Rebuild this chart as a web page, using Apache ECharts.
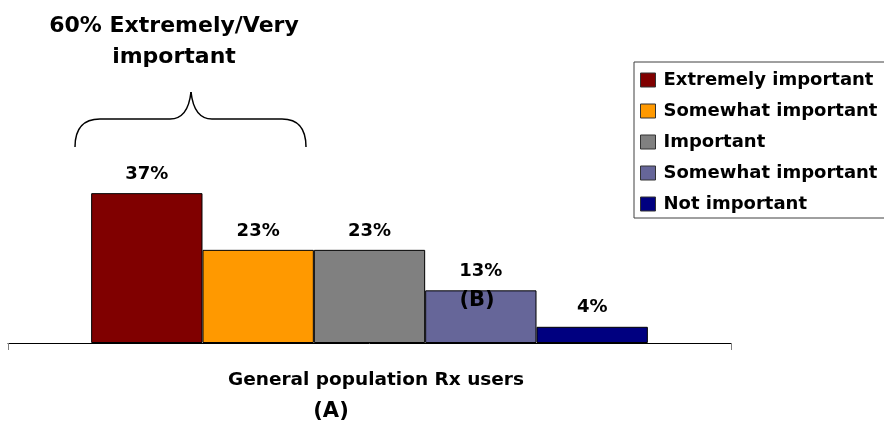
<!DOCTYPE html>
<html lang="en">

<head>
  <meta charset="UTF-8">
  <title>Importance among Rx users</title>
  <script src="https://cdn.jsdelivr.net/npm/echarts@6.0.0/dist/echarts.min.js"></script>
  <style>
    html,
    body {
      margin: 0;
      padding: 0;
      background: #fff;
    }

    #chart {
      width: 884px;
      height: 424px;
    }
  </style>
</head>

<body>
  <div id="chart"></div>
  <script>
    // data
    const categories = ['General population Rx users'];
    // the 4th name carries a trailing space so the legend keeps both "Somewhat important" rows
    const seriesNames = ['Extremely important', 'Somewhat important', 'Important', 'Somewhat important ', 'Not important'];
    const seriesValues = [37, 23, 23, 13, 4];
    const palette = ['#800000', '#FF9900', '#808080', '#666699', '#000080'];

    const FONT = 'DejaVu Sans';

    const myChart = echarts.init(document.getElementById('chart'));

    const series = seriesNames.map((name, i) => ({
      name: name,
      type: 'bar',
      barGap: '0%',
      barCategoryGap: '23%',
      data: [seriesValues[i]],
      itemStyle: {
        color: palette[i],
        borderColor: '#000',
        borderWidth: 1
      },
      label: {
        show: true,
        position: 'top',
        distance: 10,
        formatter: '{c}%',
        color: '#000',
        fontFamily: FONT,
        fontWeight: 'bold',
        fontSize: 18
      },
      emphasis: { disabled: true }
    }));

    // brace above the first two bars, drawn in pieces
    const braceStyle = { fill: 'none', stroke: '#000', lineWidth: 1.5 };
    function curve(x1, y1, cpx1, cpy1, cpx2, cpy2, x2, y2) {
      return { type: 'bezierCurve', shape: { x1, y1, cpx1, cpy1, cpx2, cpy2, x2, y2 }, style: braceStyle };
    }
    function line(x1, y1, x2, y2) {
      return { type: 'line', shape: { x1, y1, x2, y2 }, style: braceStyle };
    }
    const brace = [
      curve(75, 147, 75, 130, 82, 119, 100, 119),
      line(100, 119, 170, 119),
      curve(170, 119, 182, 119, 189, 110, 191, 92),
      curve(191, 92, 193, 110, 200, 119, 212, 119),
      line(212, 119, 282, 119),
      curve(282, 119, 300, 119, 306, 130, 306, 147)
    ];

    const textStyle = (text, x, y, size) => ({
      type: 'text',
      x: x,
      y: y,
      z: 100,
      style: {
        text: text,
        textAlign: 'center',
        textVerticalAlign: 'middle',
        fontFamily: FONT,
        fontWeight: 'bold',
        fontSize: size,
        fill: '#000'
      }
    });

    const option = {
      animation: false,
      color: palette,
      grid: {
        left: 8,
        right: 153,
        top: 181,
        bottom: 81
      },
      legend: {
        orient: 'vertical',
        left: 634,
        top: 62,
        padding: [9, 8, 5, 6],
        itemGap: 13,
        itemWidth: 15,
        itemHeight: 14,
        icon: 'rect',
        borderColor: '#404040',
        borderWidth: 1,
        formatter: name => name.trim(),
        itemStyle: {
          borderColor: '#333',
          borderWidth: 1
        },
        textStyle: {
          color: '#000',
          fontFamily: FONT,
          fontWeight: 'bold',
          fontSize: 18,
          padding: [0, 0, 0, 3]
        },
        selectedMode: false
      },
      xAxis: {
        type: 'category',
        data: categories,
        boundaryGap: true,
        axisLine: { show: true, lineStyle: { color: '#000', width: 1 } },
        axisTick: { show: true, length: 7, lineStyle: { color: '#808080', width: 1 } },
        axisLabel: {
          margin: 28,
          color: '#000',
          fontFamily: FONT,
          fontWeight: 'bold',
          fontSize: 18.5,
          padding: [0, 0, 0, 13]
        }
      },
      yAxis: {
        type: 'value',
        min: 0,
        max: 40,
        show: false
      },
      graphic: brace.concat([
        textStyle('60% Extremely/Very', 174, 26, 22),
        textStyle('important', 174, 57, 22),
        textStyle('(B)', 477, 301, 21),
        textStyle('(A)', 331, 412, 21)
      ]),
      series: series
    };

    myChart.setOption(option);
  </script>
</body>

</html>
